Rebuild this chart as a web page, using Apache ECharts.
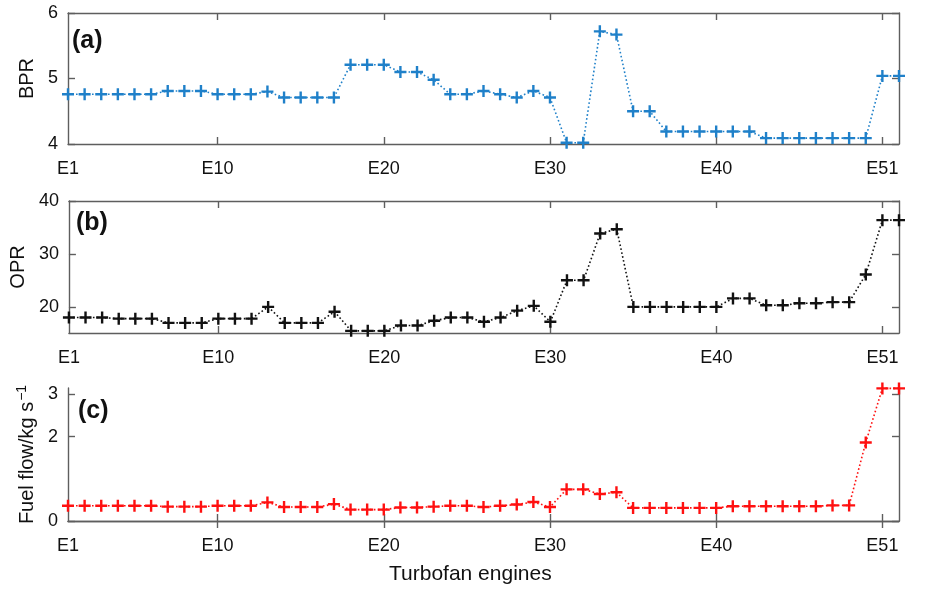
<!DOCTYPE html>
<html>
<head>
<meta charset="utf-8">
<title>Turbofan engines: BPR, OPR and fuel flow</title>
<script src="https://cdn.jsdelivr.net/npm/echarts@6/dist/echarts.min.js"></script>
<style>
  html, body { margin: 0; padding: 0; background: #ffffff; }
  #chart { width: 926px; height: 592px; }
</style>
</head>
<body>
<div id="chart"></div>
<script>
// Engine positions along the x axis (E1 ... E51)
const engineCount = 51;

// Tick marks along the engine axis and their labels
const tickPositions = [1, 10, 20, 30, 40, 50];
const tickLabels = ['E1', 'E10', 'E20', 'E30', 'E40', 'E51'];

// (a) bypass ratio per engine
const bpr = [
  4.76, 4.76, 4.76, 4.76, 4.76, 4.76, 4.81, 4.81, 4.81, 4.76,
  4.76, 4.76, 4.80, 4.71, 4.71, 4.71, 4.71, 5.21, 5.21, 5.21,
  5.10, 5.10, 4.98, 4.76, 4.76, 4.81, 4.76, 4.71, 4.81, 4.71,
  4.02, 4.02, 5.72, 5.67, 4.50, 4.50, 4.19, 4.19, 4.19, 4.19,
  4.19, 4.19, 4.09, 4.09, 4.09, 4.09, 4.09, 4.09, 4.09, 5.04,
  5.04
];

// (b) overall pressure ratio per engine
const opr = [
  18.1, 18.1, 18.1, 17.9, 17.9, 17.9, 17.1, 17.1, 17.1, 17.9,
  17.9, 17.9, 20.1, 17.1, 17.1, 17.1, 19.2, 15.6, 15.6, 15.6,
  16.6, 16.6, 17.5, 18.1, 18.1, 17.3, 18.1, 19.4, 20.3, 17.3,
  25.1, 25.1, 33.9, 34.7, 20.1, 20.1, 20.1, 20.1, 20.1, 20.1,
  21.7, 21.7, 20.4, 20.4, 20.8, 20.8, 21.0, 21.0, 26.2, 36.4,
  36.4
];

// (c) fuel flow per engine, kg/s
const fuelFlow = [
  0.36, 0.36, 0.36, 0.36, 0.36, 0.36, 0.34, 0.34, 0.34, 0.36,
  0.36, 0.36, 0.44, 0.33, 0.33, 0.33, 0.40, 0.27, 0.27, 0.27,
  0.32, 0.32, 0.34, 0.36, 0.36, 0.33, 0.36, 0.39, 0.45, 0.33,
  0.75, 0.75, 0.64, 0.68, 0.31, 0.31, 0.31, 0.31, 0.31, 0.31,
  0.35, 0.35, 0.35, 0.35, 0.35, 0.35, 0.37, 0.37, 1.86, 3.14,
  3.14
];

// Y-axis tick values for each panel
const bprTicks = [4, 5, 6];
const oprTicks = [20, 30, 40];
const fuelTicks = [0, 2, 3];

const FONT = '"Liberation Sans", Arial, Helvetica, sans-serif';
const AXIS_COLOR = '#5e5e5e';
const TEXT_COLOR = '#111111';
const PLUS = 'path://M4,0H6V4H10V6H6V10H4V6H0V4H4Z';

const grids = [
  { left: 68, right: 27, top: 13, height: 131 },
  { left: 68, right: 27, top: 201, height: 132 },
  { left: 68, right: 27, top: 388, height: 133 }
];

const axisLine = { show: true, lineStyle: { color: AXIS_COLOR, width: 1.4 } };

function xAxes(gridIndex) {
  return [
    {
      type: 'value', gridIndex, position: 'bottom', min: 1, max: engineCount,
      axisLine,
      axisTick: { show: true, inside: true, length: 7, customValues: tickPositions.slice(1),
                  lineStyle: { color: AXIS_COLOR, width: 1.4 } },
      axisLabel: {
        customValues: tickPositions, margin: 16,
        color: TEXT_COLOR, fontSize: 18, fontFamily: FONT,
        formatter: v => tickLabels[tickPositions.indexOf(v)] || ''
      },
      splitLine: { show: false }
    },
    {
      type: 'value', gridIndex, position: 'top', min: 1, max: engineCount,
      axisLine,
      axisTick: { show: true, inside: true, length: 7, customValues: tickPositions.slice(1),
                  lineStyle: { color: AXIS_COLOR, width: 1.4 } },
      axisLabel: { show: false },
      splitLine: { show: false }
    }
  ];
}

function yAxes(gridIndex, min, max, ticks, name, nameStyle) {
  return [
    {
      type: 'value', gridIndex, position: 'left', min, max,
      name, nameLocation: 'middle', nameGap: 28,
      nameTextStyle: Object.assign({ color: TEXT_COLOR, fontSize: 20, fontFamily: FONT }, nameStyle || {}),
      axisLine,
      axisTick: { show: true, inside: true, length: 7, customValues: ticks,
                  lineStyle: { color: AXIS_COLOR, width: 1.4 } },
      axisLabel: { customValues: ticks, margin: 10, color: TEXT_COLOR, fontSize: 18, fontFamily: FONT },
      splitLine: { show: false }
    },
    {
      type: 'value', gridIndex, position: 'right', min, max,
      axisLine,
      axisTick: { show: true, inside: true, length: 7, customValues: ticks,
                  lineStyle: { color: AXIS_COLOR, width: 1.4 } },
      axisLabel: { show: false },
      splitLine: { show: false }
    }
  ];
}

function series(values, color, panel) {
  return {
    type: 'line',
    xAxisIndex: panel * 2,
    yAxisIndex: panel * 2,
    data: values.map((v, i) => [i + 1, v]),
    symbol: PLUS,
    symbolSize: 12,
    showSymbol: true,
    clip: false,
    animation: false,
    itemStyle: { color },
    lineStyle: { color, width: 1.6, type: [1.6, 2.4] }
  };
}

const chart = echarts.init(document.getElementById('chart'), null, { renderer: 'canvas' });

chart.setOption({
  animation: false,
  backgroundColor: '#ffffff',
  grid: grids,
  xAxis: [].concat(xAxes(0), xAxes(1), xAxes(2)),
  yAxis: [].concat(
    yAxes(0, 4, 6, bprTicks, 'BPR'),
    yAxes(1, 15.2, 40, oprTicks, 'OPR'),
    yAxes(2, 0, 3.15, fuelTicks, '{t|Fuel flow/kg s}{s|−1}', {
      rich: {
        t: { fontSize: 20, fontFamily: FONT, color: TEXT_COLOR },
        s: { fontSize: 14, fontFamily: FONT, color: TEXT_COLOR, verticalAlign: 'top', padding: [0, 0, 10, 1] }
      }
    })
  ),
  series: [
    series(bpr, '#1f80c9', 0),
    series(opr, '#111111', 1),
    series(fuelFlow, '#ff1010', 2)
  ],
  graphic: [
    { type: 'text', left: 72, top: 29, style: { text: '(a)', font: 'bold 25px ' + FONT, fill: TEXT_COLOR } },
    { type: 'text', left: 76, top: 211, style: { text: '(b)', font: 'bold 25px ' + FONT, fill: TEXT_COLOR } },
    { type: 'text', left: 78, top: 399, style: { text: '(c)', font: 'bold 25px ' + FONT, fill: TEXT_COLOR } },
    { type: 'text', left: 389, top: 564, style: { text: 'Turbofan engines', font: '21px ' + FONT, fill: TEXT_COLOR } }
  ]
});
</script>
</body>
</html>
